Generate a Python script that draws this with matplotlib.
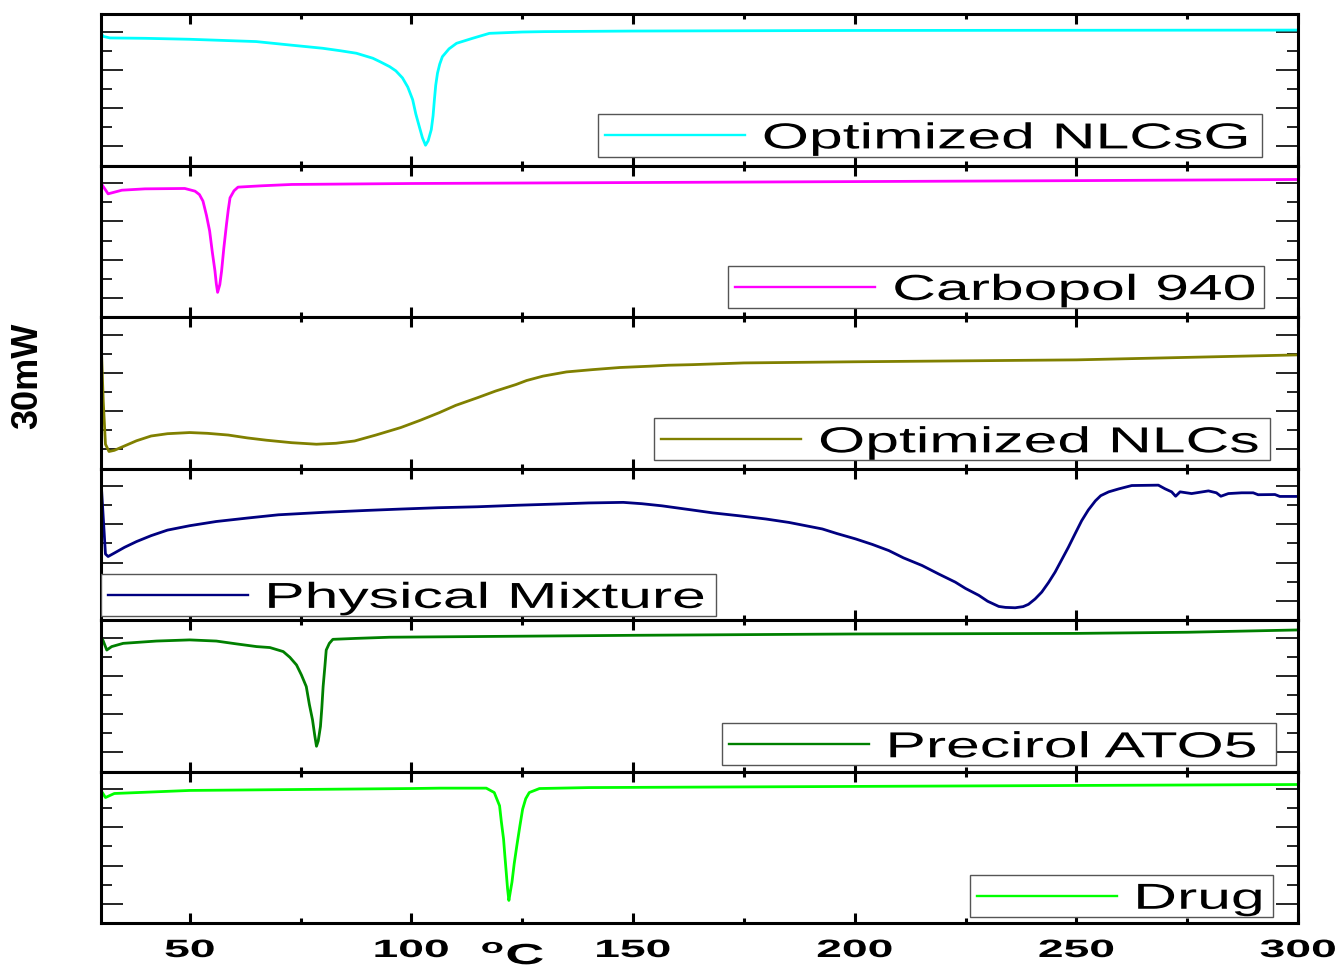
import numpy as np
import matplotlib
matplotlib.use('Agg')
from matplotlib import pyplot as plt
from matplotlib.ticker import MultipleLocator, FixedLocator
from matplotlib.patches import Rectangle
from matplotlib.lines import Line2D
from matplotlib.patheffects import AbstractPathEffect
from matplotlib.transforms import Affine2D

plt.rcParams['font.family'] = ['Liberation Sans', 'DejaVu Sans']
plt.rcParams['mathtext.fontset'] = 'custom'
plt.rcParams['mathtext.bf'] = 'Liberation Sans:bold'
plt.rcParams['mathtext.rm'] = 'Liberation Sans'

# DSC thermograms (heat flow, arbitrary offset units), top to bottom
labels = ['Optimized NLCsG', 'Carbopol 940', 'Optimized NLCs',
          'Physical Mixture', 'Precirol ATO5', 'Drug']
colors = ['#00FFFF', '#FF00FF', '#808000', '#000080', '#008000', '#00FF00']

t_nlcsg = [30, 30.5, 32, 40, 50, 65, 72.6, 80, 84, 87.6, 91.3, 93, 95.1, 96.5, 98, 99.2,
           100.3, 101, 101.8, 102.5, 103.2, 103.8, 104.5, 104.9, 105.2, 105.5, 105.9, 106.4,
           107, 108.5, 110.2, 113.8, 117.6, 125, 130, 150, 200, 250, 300]
y_nlcsg = [6.93, 6.75, 6.67, 6.65, 6.60, 6.48, 6.30, 6.13, 6.00, 5.87, 5.61, 5.42, 5.17, 4.95,
           4.58, 4.10, 3.44, 2.70, 2.03, 1.45, 1.06, 1.30, 1.88, 2.60, 3.44, 4.20, 4.83, 5.30,
           5.69, 6.10, 6.39, 6.65, 6.91, 6.98, 7.00, 7.03, 7.06, 7.07, 7.08]

t_carbopol = [30, 30.3, 31.6, 34.7, 39.9, 48.9, 51.2, 52.2, 53, 53.8, 54.5, 55.1, 55.7,
              56, 56.3, 56.8, 57.2, 57.7, 58.3, 58.7, 59.1, 60, 60.9, 66.2, 73, 100, 150,
              200, 250, 300]
y_carbopol = [7.05, 6.89, 6.44, 6.63, 6.70, 6.72, 6.58, 6.40, 6.06, 5.30, 4.50, 3.40, 2.41,
              1.75, 1.29, 1.70, 2.41, 3.60, 4.84, 5.60, 6.23, 6.60, 6.79, 6.86, 6.93, 6.98,
              7.03, 7.08, 7.13, 7.19]

t_nlcs = [30, 30.5, 31, 31.8, 33, 35.3, 38, 41.3, 45, 50, 54, 58.7, 63, 67.3, 73, 78.6, 83,
          87.2, 92, 97.6, 102, 106.3, 110, 114.9, 119, 123.6, 126, 129.7, 135, 140.9, 147,
          153.9, 158, 163.4, 175, 200, 250, 300]
y_nlcs = [6.82, 3.53, 1.27, 0.89, 0.95, 1.18, 1.45, 1.70, 1.82, 1.88, 1.84, 1.75, 1.60, 1.48,
          1.35, 1.27, 1.32, 1.44, 1.75, 2.14, 2.52, 2.92, 3.30, 3.70, 4.05, 4.39, 4.60, 4.83,
          5.05, 5.17, 5.28, 5.35, 5.40, 5.43, 5.52, 5.58, 5.68, 5.94]

t_mix = [30, 31, 31.6, 33, 35.3, 38, 41.3, 45, 50, 56, 63, 70, 80.3, 90, 97.6, 106, 114.9,
         124, 132.3, 140, 147.8, 152, 156.5, 163.4, 168, 173.9, 180, 185.2, 192.7, 196,
         200.2, 204, 207.7, 211, 215.2, 219, 222.7, 225, 228, 230, 232.5, 234, 236.2, 238,
         239.2, 240.7, 242.2, 243.7, 245.2, 246.7, 248.2, 249.7, 251.2, 252.7, 254.3, 255.5,
         257.3, 259.5, 262.5, 268.5, 270, 271.5, 272.4, 273.4, 276, 279.8, 281.6, 282.6,
         284.3, 287.3, 289.9, 291, 294.8, 295.9, 300]
y_mix = [7.29, 3.45, 3.32, 3.50, 3.80, 4.10, 4.41, 4.70, 4.93, 5.15, 5.33, 5.50, 5.63, 5.73,
         5.80, 5.87, 5.92, 6.00, 6.06, 6.12, 6.15, 6.08, 5.97, 5.75, 5.60, 5.45, 5.28, 5.10,
         4.76, 4.52, 4.24, 3.95, 3.63, 3.25, 2.85, 2.40, 1.98, 1.65, 1.29, 0.98, 0.71, 0.66,
         0.64, 0.70, 0.82, 1.10, 1.46, 1.95, 2.50, 3.15, 3.80, 4.50, 5.19, 5.75, 6.23, 6.50,
         6.70, 6.85, 7.03, 7.05, 6.86, 6.70, 6.47, 6.70, 6.61, 6.75, 6.65, 6.47,
         6.61, 6.65, 6.65, 6.55, 6.56, 6.46, 6.46]

t_precirol = [30, 30.4, 31.3, 32.4, 35, 42.5, 50, 56, 60.6, 65.1, 68.1, 71.1, 72.6, 74.1,
              75.2, 76.3, 77, 77.7, 78.2, 78.6, 79, 79.5, 79.8, 80.1, 80.5, 80.8, 81.5, 82.3,
              87.6, 95.1, 150, 200, 250, 275, 300]
y_precirol = [7.0, 6.88, 6.35, 6.53, 6.70, 6.82, 6.88, 6.82, 6.67, 6.53, 6.48, 6.27, 5.97, 5.57,
              5.05, 4.44, 3.50, 2.71, 1.90, 1.32, 1.60, 2.36, 3.30, 4.44, 5.50, 6.35, 6.70, 6.91,
              6.96, 7.02, 7.12, 7.19, 7.22, 7.28, 7.40]

t_drug = [30, 31, 33, 50, 100, 106.4, 116.9, 118.7, 119.9, 120.3, 120.8, 121.1, 121.4, 121.7,
          122, 122.3, 122.7, 123.2, 123.8, 124.5, 125.1, 125.8, 126.6, 128.9, 140.1, 200,
          250, 300]
y_drug = [6.93, 6.56, 6.77, 6.93, 7.03, 7.05, 7.05, 6.82, 6.13, 5.30, 4.39, 3.50, 2.66, 1.80,
          1.18, 1.60, 2.14, 3.10, 4.05, 5.10, 5.95, 6.50, 6.82, 7.03, 7.08, 7.14,
          7.19, 7.24]

temps = [t_nlcsg, t_carbopol, t_nlcs, t_mix, t_precirol, t_drug]
flows = [y_nlcsg, y_carbopol, y_nlcs, y_mix, y_precirol, y_drug]

# legend box left/right edge (axes fraction) for each panel
box_left = [0.415, 0.524, 0.462, 0.0, 0.519, 0.726]
box_right = [0.970, 0.972, 0.977, 0.514, 0.982, 0.979]
box_bottom = [0.059, 0.059, 0.053, 0.026, 0.040, 0.040]


class Stretch(AbstractPathEffect):
    """widen text glyphs horizontally"""
    def __init__(self, sx, anchor='center'):
        super().__init__()
        self.sx = sx
        self.anchor = anchor

    def draw_path(self, renderer, gc, tpath, affine, rgbFace=None):
        bb = tpath.get_extents(affine)
        x0 = bb.x0 if self.anchor == 'left' else 0.5 * (bb.x0 + bb.x1)
        aff = affine + Affine2D().translate(-x0, 0).scale(self.sx, 1).translate(x0, 0)
        renderer.draw_path(gc, tpath, aff, rgbFace)


fig = plt.figure(figsize=(13.38, 9.74), dpi=100)
left, width = 0.0755, 0.8946
bottom0, h = 0.05236, 0.15554

axes = []
for i in range(6):
    ax = fig.add_axes([left, bottom0 + (5 - i) * h, width, h])
    ax.plot(temps[i], flows[i], color=colors[i], lw=2.0, solid_joinstyle='round')
    ax.set_xlim(30, 300)
    ax.set_ylim(0, 7.92)
    ax.xaxis.set_major_locator(MultipleLocator(50))
    ax.xaxis.set_minor_locator(MultipleLocator(25))
    ax.yaxis.set_major_locator(FixedLocator([1, 3, 5, 7]))
    ax.yaxis.set_minor_locator(FixedLocator([0, 2, 4, 6]))
    ax.tick_params(axis='x', which='both', direction='in', top=True, bottom=True,
                   width=2.2, labelbottom=(i == 5), labelsize=18, pad=10.8)
    ax.tick_params(axis='x', which='major', length=7)
    ax.tick_params(axis='x', which='minor', length=3.5)
    ax.tick_params(axis='y', which='both', direction='in', left=True, right=True,
                   width=1.2, labelleft=False)
    ax.tick_params(axis='y', which='major', length=16)
    ax.tick_params(axis='y', which='minor', length=8)
    for sp in ax.spines.values():
        sp.set_linewidth(2.2)

    # legend box
    x0, x1, y0 = box_left[i], box_right[i], box_bottom[i]
    bh = 0.28
    yc = y0 + bh / 2
    ax.add_patch(Rectangle((x0, y0), x1 - x0, bh, transform=ax.transAxes,
                           facecolor='white', edgecolor='#555555', lw=1.0, zorder=5))
    ax.add_line(Line2D([x0 + 0.006, x0 + 0.123], [yc, yc], transform=ax.transAxes,
                       color=colors[i], lw=1.7, zorder=6))
    ax.text(x0 + 0.138, yc - 0.086, labels[i], transform=ax.transAxes, ha='left',
            va='baseline', fontsize=26, zorder=7, path_effects=[Stretch(1.68, 'left')])
    axes.append(ax)

for lab in axes[-1].get_xticklabels():
    lab.set_fontweight('bold')
    lab.set_path_effects([Stretch(1.85)])

fig.text(0.3834, 0.004, r'$^{\mathbf{o}}$C', ha='center', va='bottom', fontsize=21,
         fontweight='bold', path_effects=[Stretch(1.85)])
fig.text(0.021, 0.614, '30mW', rotation=90, ha='center', va='center', fontsize=26,
         fontweight='bold')

fig.savefig('out.png', dpi=100)
